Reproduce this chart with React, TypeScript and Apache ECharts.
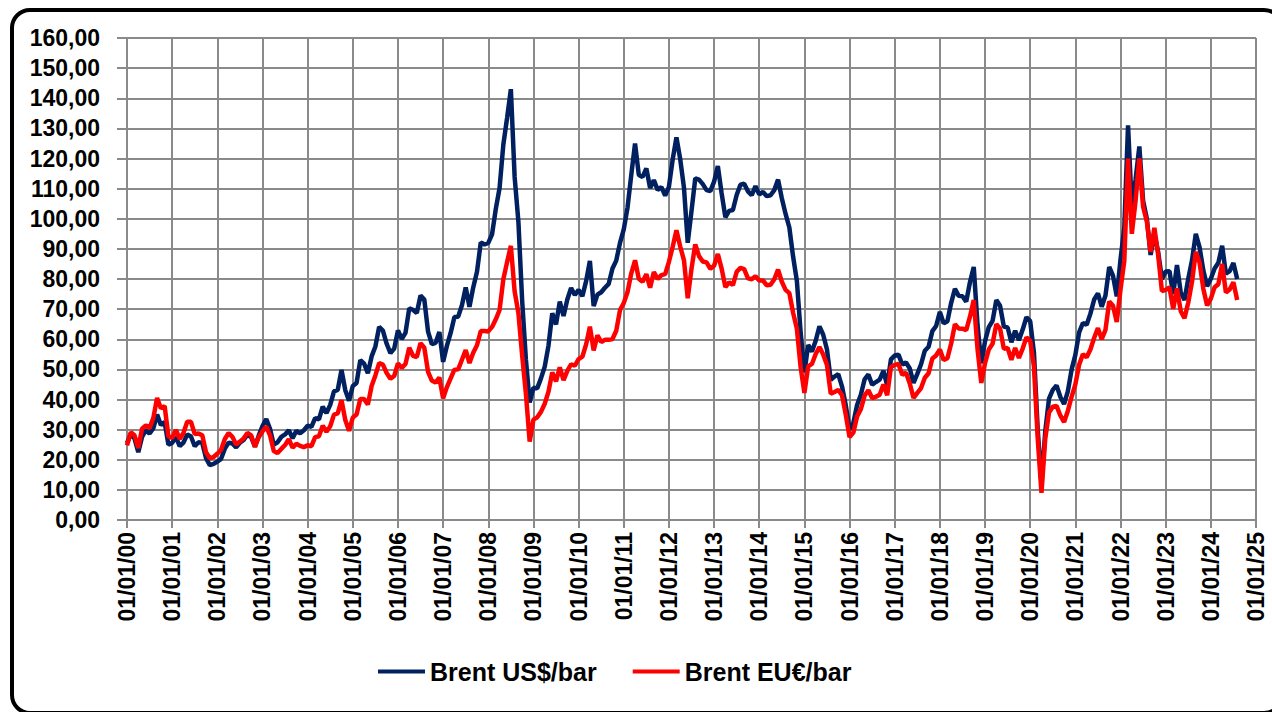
import React, { useEffect, useRef } from "react";
import * as echarts from "echarts";

const START_YEAR = 2000;
const END_YEAR = 2025;
const SERIES_NAMES = ["Brent US$/bar", "Brent EU€/bar"];

// Monthly Brent price in US$ per barrel, Jan 2000 .. Aug 2024
const usdBrent = [
  25.5, 28.5, 27.0, 22.5, 27.6, 29.8, 28.7, 30.5, 35.0, 31.5, 32.5, 25.0, // 2000
  25.6, 27.5, 24.5, 25.7, 28.4, 27.7, 24.5, 25.8, 25.6, 20.5, 18.2, 18.6, // 2001
  19.4, 20.3, 23.7, 25.7, 25.4, 24.1, 25.7, 26.6, 28.3, 27.5, 24.3, 28.0, // 2002
  31.2, 33.5, 30.3, 25.0, 25.8, 27.6, 28.4, 29.8, 27.1, 29.6, 28.8, 29.8, // 2003
  31.3, 30.9, 33.8, 33.4, 37.6, 35.5, 38.2, 42.7, 43.2, 49.8, 43.1, 39.6, // 2004
  44.5, 45.5, 53.1, 51.9, 48.7, 54.3, 57.6, 64.1, 62.9, 58.5, 55.4, 56.9, // 2005
  62.9, 60.1, 62.1, 70.3, 69.8, 68.7, 74.5, 73.2, 62.5, 58.4, 58.8, 62.4, // 2006
  52.5, 57.8, 62.1, 67.4, 67.5, 71.3, 77.2, 70.8, 77.2, 82.4, 92.1, 91.5, // 2007
  92.0, 94.8, 103.3, 110.2, 124.6, 133.5, 143.0, 113.9, 99.1, 72.8, 53.2, 39.0, // 2008
  43.9, 43.7, 47.0, 50.9, 57.9, 68.6, 64.9, 72.5, 67.7, 73.2, 77.0, 74.7, // 2009
  76.4, 74.3, 79.3, 86.0, 71.0, 74.8, 75.6, 77.1, 78.4, 83.5, 86.1, 92.0, // 2010
  96.5, 103.7, 114.6, 125.0, 114.5, 113.9, 116.7, 110.2, 112.8, 109.6, 110.5, 107.7, // 2011
  110.6, 119.7, 127.0, 119.8, 110.3, 92.0, 102.6, 113.4, 113.0, 111.5, 109.5, 109.2, // 2012
  112.3, 117.5, 108.5, 100.5, 102.6, 102.9, 107.9, 111.3, 111.6, 109.1, 107.8, 110.8, // 2013
  108.1, 108.9, 107.5, 107.8, 109.5, 113.0, 106.8, 101.6, 97.1, 87.4, 79.4, 62.3, // 2014
  49.0, 58.1, 55.9, 59.5, 64.3, 61.5, 56.6, 46.5, 47.6, 48.4, 44.3, 38.0, // 2015
  30.0, 32.2, 38.2, 41.6, 46.7, 48.3, 44.9, 45.8, 46.6, 49.5, 44.7, 53.3, // 2016
  54.6, 54.9, 51.6, 52.3, 50.3, 45.5, 48.5, 51.7, 56.2, 57.5, 62.7, 64.4, // 2017
  69.1, 65.3, 66.0, 72.1, 76.7, 74.4, 74.3, 72.5, 79.0, 84.0, 64.8, 52.0, // 2018
  59.4, 64.0, 66.1, 73.0, 71.1, 64.2, 63.9, 59.0, 62.8, 59.7, 63.2, 67.3, // 2019
  66.0, 55.5, 30.0, 12.0, 29.4, 40.3, 43.2, 44.7, 40.9, 38.5, 42.7, 49.9, // 2020
  54.8, 62.3, 65.4, 64.8, 68.5, 73.2, 75.2, 70.8, 74.5, 84.0, 81.1, 74.2, // 2021
  86.5, 97.0, 131.0, 104.0, 113.0, 124.0, 106.0, 100.0, 88.0, 95.0, 89.0, 80.0, // 2022
  82.5, 82.6, 75.0, 84.6, 75.5, 73.0, 80.1, 86.2, 95.0, 90.6, 82.9, 77.6, // 2023
  80.1, 83.5, 85.4, 91.0, 81.8, 82.6, 85.3, 80.0, // 2024
];

// Monthly Brent price in EU€ per barrel, Jan 2000 .. Aug 2024
const eurBrent = [
  24.8, 29.1, 28.1, 23.9, 30.3, 31.4, 30.5, 33.9, 40.5, 37.1, 37.8, 27.8, // 2000
  27.2, 29.9, 26.9, 28.9, 32.6, 32.6, 28.5, 28.7, 28.1, 22.5, 20.5, 20.9, // 2001
  22.0, 23.3, 26.9, 28.9, 27.6, 25.1, 26.0, 27.1, 28.9, 28.1, 24.3, 27.5, // 2002
  29.4, 31.0, 28.1, 22.9, 22.2, 23.6, 24.9, 26.8, 24.0, 25.3, 24.6, 24.2, // 2003
  24.8, 24.5, 27.5, 27.8, 31.3, 29.3, 31.1, 35.0, 35.4, 39.8, 33.2, 29.6, // 2004
  34.0, 35.0, 40.2, 40.2, 38.3, 44.5, 48.0, 52.1, 51.6, 48.8, 46.9, 47.8, // 2005
  52.0, 50.5, 51.8, 57.2, 54.5, 54.1, 58.7, 57.2, 49.2, 46.3, 45.6, 47.3, // 2006
  40.4, 44.1, 47.0, 49.9, 50.0, 53.2, 56.4, 52.1, 55.5, 58.0, 62.7, 62.7, // 2007
  62.6, 64.1, 66.6, 69.7, 79.9, 85.6, 91.0, 75.9, 68.8, 54.7, 41.9, 26.0, // 2008
  33.3, 34.1, 35.9, 38.6, 42.6, 49.0, 46.0, 50.7, 46.4, 49.5, 51.7, 51.2, // 2009
  53.4, 54.2, 58.3, 64.2, 56.3, 61.3, 59.1, 59.8, 59.8, 60.1, 62.8, 69.7, // 2010
  72.0, 75.7, 81.9, 86.2, 80.1, 79.1, 81.6, 77.1, 82.3, 80.0, 81.3, 81.6, // 2011
  85.7, 90.7, 96.2, 90.8, 86.2, 73.6, 83.4, 91.5, 87.6, 85.8, 85.5, 83.4, // 2012
  84.4, 88.3, 83.5, 77.3, 78.9, 78.0, 82.4, 83.7, 83.3, 80.2, 79.9, 80.9, // 2013
  79.5, 79.5, 77.9, 78.1, 79.9, 83.1, 79.1, 76.4, 75.3, 68.8, 63.5, 50.7, // 2014
  42.2, 51.0, 51.8, 55.1, 57.4, 54.9, 51.5, 41.9, 42.5, 43.2, 41.4, 34.9, // 2015
  27.5, 29.0, 34.4, 36.8, 41.3, 43.1, 40.5, 40.9, 41.6, 45.0, 41.4, 50.8, // 2016
  51.5, 51.8, 48.2, 48.9, 45.3, 40.5, 42.2, 43.8, 47.2, 48.7, 53.6, 54.6, // 2017
  56.6, 53.1, 53.7, 58.6, 65.0, 63.6, 63.5, 63.0, 67.5, 73.0, 56.8, 45.5, // 2018
  52.1, 56.6, 58.5, 65.0, 63.5, 56.8, 57.1, 53.2, 57.1, 53.8, 56.9, 60.6, // 2019
  59.5, 50.9, 27.0, 9.0, 27.0, 35.7, 37.6, 37.9, 34.7, 32.5, 36.2, 40.9, // 2020
  45.0, 51.5, 55.0, 54.0, 56.6, 60.5, 63.7, 60.0, 63.1, 72.5, 71.1, 65.7, // 2021
  76.5, 86.0, 120.0, 95.0, 106.0, 120.0, 104.0, 99.0, 89.0, 97.0, 88.0, 76.0, // 2022
  76.4, 77.2, 70.1, 76.9, 69.3, 67.0, 72.2, 79.1, 89.0, 85.5, 76.8, 71.2, // 2023
  73.5, 77.3, 78.3, 85.0, 75.5, 76.5, 78.9, 73.0, // 2024
];

// x position of each monthly value, in fractional years
const monthPositions = usdBrent.map((_, i) => START_YEAR + i / 12);

const FONT = "'Liberation Sans', Arial, sans-serif";
const GRID_COLOR = "#8a8a8a";

export default function App() {
  const ref = useRef<HTMLDivElement>(null);

  useEffect(() => {
    if (!ref.current) return;
    const chart = echarts.init(ref.current, null, { renderer: "svg" });
    chart.setOption({
      animation: false,
      backgroundColor: "#ffffff",
      grid: {
        left: 127,
        right: 16,
        top: 38,
        bottom: 192,
        containLabel: false,
        outerBoundsMode: "none",
      },
      xAxis: {
        type: "value",
        min: START_YEAR,
        max: END_YEAR,
        interval: 1,
        axisLine: { show: true, lineStyle: { color: GRID_COLOR, width: 2 } },
        axisTick: { show: true, length: 8, lineStyle: { color: GRID_COLOR, width: 2 } },
        splitLine: { show: true, lineStyle: { color: GRID_COLOR, width: 2 } },
        axisLabel: {
          rotate: 90,
          margin: 12,
          color: "#000",
          fontFamily: FONT,
          fontWeight: "bold",
          fontSize: 23,
          formatter: (v: number) => "01/01/" + String(Math.round(v) % 100).padStart(2, "0"),
        },
      },
      yAxis: {
        type: "value",
        min: 0,
        max: 160,
        interval: 10,
        axisLine: { show: true, lineStyle: { color: GRID_COLOR, width: 2 } },
        axisTick: { show: true, length: 10, lineStyle: { color: GRID_COLOR, width: 2 } },
        splitLine: { show: true, lineStyle: { color: GRID_COLOR, width: 2 } },
        axisLabel: {
          margin: 27,
          color: "#000",
          fontFamily: FONT,
          fontWeight: "bold",
          fontSize: 23,
          formatter: (v: number) => v.toFixed(2).replace(".", ","),
        },
      },
      legend: {
        left: 378,
        top: 659,
        padding: 0,
        itemWidth: 47,
        itemHeight: 4,
        itemGap: 36,
        icon: "rect",
        data: SERIES_NAMES,
        textStyle: {
          color: "#000",
          fontFamily: FONT,
          fontWeight: "bold",
          fontSize: 25,
        },
      },
      graphic: [
        {
          type: "rect",
          shape: { x: 12, y: 10, width: 1270, height: 703, r: 18 },
          style: { fill: "none", stroke: "#000", lineWidth: 4 },
          silent: true,
          z: 100,
        },
      ],
      series: [
        {
          name: SERIES_NAMES[0],
          type: "line",
          showSymbol: false,
          symbol: "none",
          color: "#002060",
          lineStyle: { color: "#002060", width: 4.5 },
          data: usdBrent.map((v, i) => [monthPositions[i], v]),
        },
        {
          name: SERIES_NAMES[1],
          type: "line",
          showSymbol: false,
          symbol: "none",
          color: "#ff0000",
          lineStyle: { color: "#ff0000", width: 4.5 },
          data: eurBrent.map((v, i) => [monthPositions[i], v]),
        },
      ],
    });
    return () => chart.dispose();
  }, []);

  return (
    <div
      ref={ref}
      style={{ position: "absolute", left: 0, top: 0, width: 1272, height: 712 }}
    />
  );
}
